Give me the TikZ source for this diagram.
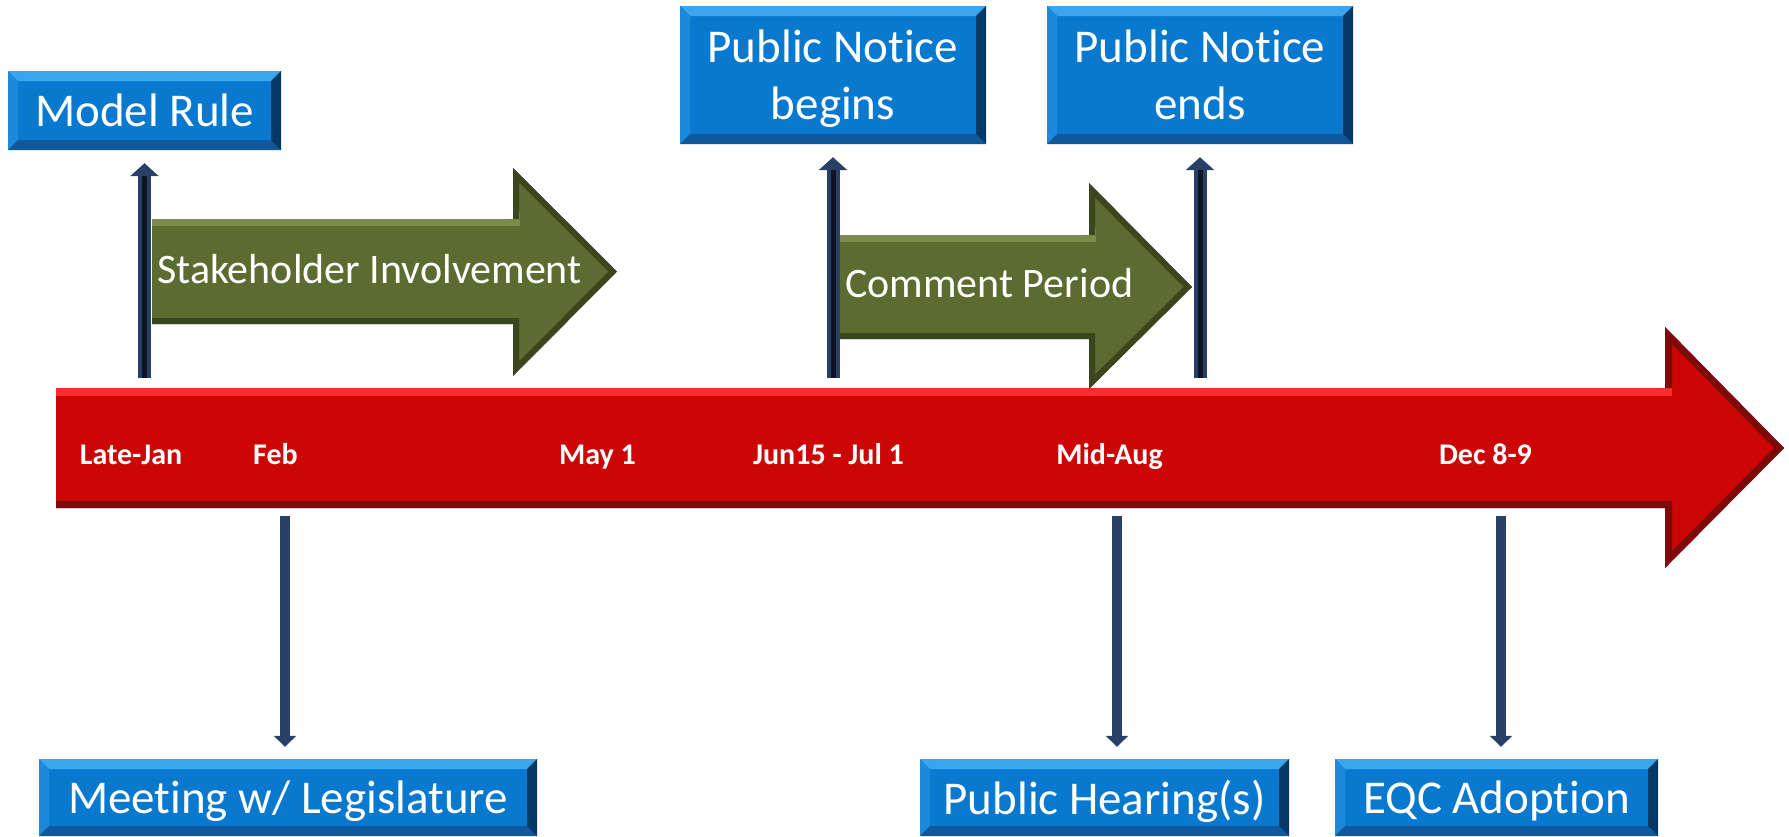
\documentclass[tikz,border=0pt]{standalone}
\usepackage{fontspec}
\setmainfont{Carlito}[Ligatures={NoCommon,NoContextual}, Contextuals=NoAlternate]
\usetikzlibrary{arrows.meta}

\definecolor{boxblue}{RGB}{8,121,207}
\definecolor{bevtop}{RGB}{58,166,240}
\definecolor{bevleft}{RGB}{28,138,218}
\definecolor{bevbot}{RGB}{14,88,155}
\definecolor{bevright}{RGB}{6,56,102}
\definecolor{tlred}{RGB}{204,6,5}
\definecolor{tlredhi}{RGB}{250,45,45}
\definecolor{tlreddk}{RGB}{125,10,10}
\definecolor{spangreen}{RGB}{90,108,47}
\definecolor{spanhi}{RGB}{122,140,78}
\definecolor{spandk}{RGB}{58,70,30}
\definecolor{stemnavy}{RGB}{40,64,102}
\definecolor{stemcore}{RGB}{14,20,32}

\tikzset{
  bluebox/.style={fill=boxblue, text=white, inner sep=0pt, align=center, text depth=0pt,
    font=\fontsize{47}{57}\selectfont,
    path picture={
      \fill[bevtop] (path picture bounding box.north west) -- (path picture bounding box.north east)
        -- ([shift={(-10pt,-10pt)}]path picture bounding box.north east)
        -- ([shift={(10pt,-10pt)}]path picture bounding box.north west) -- cycle;
      \fill[bevleft] (path picture bounding box.north west) -- ([shift={(10pt,-10pt)}]path picture bounding box.north west)
        -- ([shift={(10pt,10pt)}]path picture bounding box.south west)
        -- (path picture bounding box.south west) -- cycle;
      \fill[bevbot] (path picture bounding box.south west) -- ([shift={(10pt,10pt)}]path picture bounding box.south west)
        -- ([shift={(-10pt,10pt)}]path picture bounding box.south east)
        -- (path picture bounding box.south east) -- cycle;
      \fill[bevright] (path picture bounding box.north east) -- (path picture bounding box.south east)
        -- ([shift={(-10pt,10pt)}]path picture bounding box.south east)
        -- ([shift={(-10pt,-10pt)}]path picture bounding box.north east) -- cycle;
    }},
  datelbl/.style={text=white, inner sep=0pt, anchor=base, font=\bfseries\fontsize{30}{30}\selectfont},
  spanlbl/.style={text=white, inner sep=0pt, anchor=base west, font=\fontsize{42}{42}\selectfont},
  uparr/.style={draw=stemnavy, line width=13pt, shorten >=13pt, -{Triangle[width=28pt,length=13pt]},
    postaction={draw=stemcore, line width=5pt, shorten >=26pt, -}},
  downarr/.style={draw=stemnavy, line width=10pt, shorten >=12pt, -{Triangle[width=22pt,length=11pt]}}
}

\begin{document}
\begin{tikzpicture}[x=1pt,y=-1pt]
  \useasboundingbox (0,0) rectangle (1789,836);

  % timeline bar
  \begin{scope}
    \clip (56,388) -- (1665,388) -- (1665,327) -- (1784,448) -- (1665,568) -- (1665,508) -- (56,508) -- cycle;
    \fill[tlred] (56,327) rectangle (1784,568);
    \draw[tlredhi, line width=16pt] (56,388) -- (1672,388);
    \draw[tlreddk, line width=14pt] (56,508) -- (1665,508) -- (1665,568) -- (1784,448) -- (1665,327) -- (1665,388);
  \end{scope}

  % green spans
  \begin{scope}
    \clip (152,219) -- (513,219) -- (513,168) -- (617,271.5) -- (513,376) -- (513,324) -- (152,324) -- cycle;
    \fill[spangreen] (152,168) rectangle (617,376);
    \draw[spanhi, line width=14pt] (152,219) -- (520,219);
    \draw[spandk, line width=12pt] (152,324) -- (513,324) -- (513,376) -- (617,271.5) -- (513,168) -- (513,219);
  \end{scope}
  \begin{scope}
    \clip (839,235) -- (1089,235) -- (1089,183) -- (1192,287) -- (1089,389) -- (1089,339) -- (839,339) -- cycle;
    \fill[spangreen] (839,183) rectangle (1192,389);
    \draw[spanhi, line width=14pt] (839,235) -- (1096,235);
    \draw[spandk, line width=12pt] (839,339) -- (1089,339) -- (1089,389) -- (1192,287) -- (1089,183) -- (1089,235);
  \end{scope}
  \node[spanlbl] (stake) at (157,283) {Stakeholder Involvement};
  \node[spanlbl] (comment) at (845,297) {Comment Period};

  % dates
  \node[datelbl] (d1) at (131,464) {Late-Jan};
  \node[datelbl] (d2) at (275.5,464) {Feb};
  \node[datelbl] (d3) at (597.5,464) {May 1};
  \node[datelbl] (d4) at (828.5,464) {Jun15 - Jul 1};
  \node[datelbl] (d5) at (1109.5,464) {Mid-Aug};
  \node[datelbl] (d6) at (1485.5,464) {Dec 8-9};

  % boxes
  \node[bluebox, minimum width=273pt, minimum height=79pt] (model) at (144.5,110.5) {Model Rule};
  \node[bluebox, minimum width=306pt, minimum height=138pt] (nbegin) at (833,75) {Public Notice\\begins};
  \node[bluebox, minimum width=306pt, minimum height=138pt] (nend) at (1200,75) {Public Notice\\ends};
  \node[bluebox, minimum width=498pt, minimum height=77pt] (meet) at (288,797.5) {Meeting w/ Legislature};
  \node[bluebox, minimum width=369pt, minimum height=77pt] (hear) at (1104.5,797.5) {Public Hearing(s)};
  \node[bluebox, minimum width=323pt, minimum height=77pt] (eqc) at (1496.5,797.5) {EQC Adoption};

  % stems
  \coordinate (ltop) at (0,378);
  \coordinate (lbot) at (0,516);
  \draw[uparr] (model.south |- ltop) -- (model.south);
  \draw[uparr] (nbegin.south |- ltop) -- (nbegin.south);
  \draw[uparr] (nend.south |- ltop) -- (nend.south);
  \draw[downarr] ([xshift=-3pt]meet.north |- lbot) -- ([xshift=-3pt]meet.north);
  \draw[downarr] ([xshift=12.5pt]hear.north |- lbot) -- ([xshift=12.5pt]hear.north);
  \draw[downarr] ([xshift=4.5pt]eqc.north |- lbot) -- ([xshift=4.5pt]eqc.north);
\end{tikzpicture}
\end{document}
